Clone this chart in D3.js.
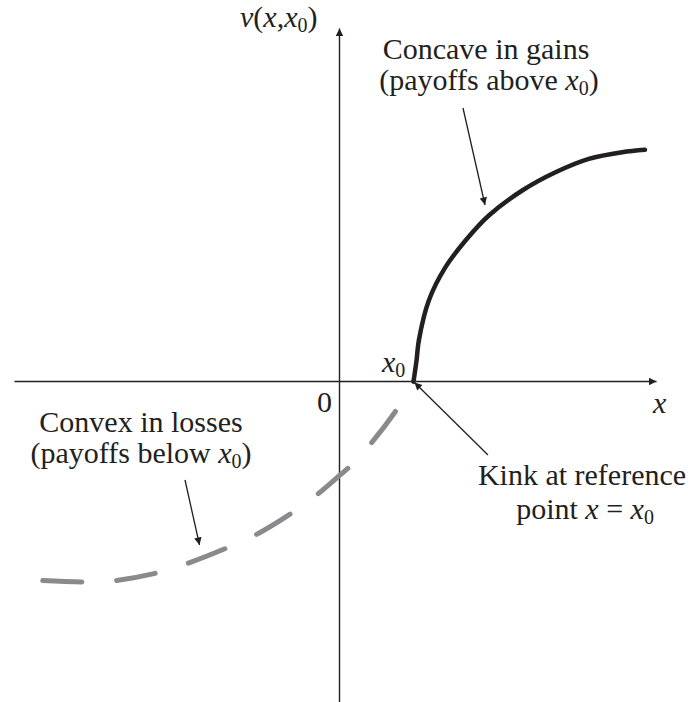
<!DOCTYPE html>
<html>
<head>
<meta charset="utf-8">
<script src="https://cdn.jsdelivr.net/npm/d3@7"></script>
</head>
<body style="margin:0">
<script>
// ---- data ----
// gains branch (concave), x in units where x0 = 1
const gainX = [1.0, 1.041, 1.072, 1.207, 1.432, 1.703, 2.018, 2.469, 2.919, 3.369, 3.820, 4.128];
const gainV = [0, 0.284, 0.554, 1.095, 1.545, 1.905, 2.243, 2.581, 2.828, 3.009, 3.099, 3.131];
// losses branch (convex)
const lossX = [-4.01, -3.43, -3.03, -2.44, -2.06, -1.50, -1.11, -0.62, -0.28, 0, 0.17, 0.44, 0.80, 1.0];
const lossV = [-2.69, -2.71, -2.69, -2.58, -2.46, -2.24, -2.06, -1.76, -1.51, -1.27, -1.12, -0.82, -0.34, 0];
// axis extents
const xExtent = [-4.392, 4.284];
const vExtent = [-4.34, 4.77];
const x0Value = 1;

// ---- layout ----
const W = 692, H = 702;
const FONTS = ["'Liberation Serif'", "'Times New Roman'", "Tinos", "'Liberation Serif', serif"];
const INK = "#231f20";
const svg = d3.select("body").append("svg").attr("width", W).attr("height", H);

const x = d3.scaleLinear().domain([0, 1]).range([339.5, 413.5]);
const y = d3.scaleLinear().domain([0, 1]).range([381.5, 307.5]);

const defs = svg.append("defs");
defs.append("marker")
  .attr("id", "arr").attr("viewBox", "0 0 10 10")
  .attr("refX", 10).attr("refY", 5)
  .attr("markerUnits", "userSpaceOnUse")
  .attr("markerWidth", 11).attr("markerHeight", 7.5)
  .attr("orient", "auto")
  .append("path").attr("d", "M0,0L10,5L0,10z").attr("fill", INK);

// axes
svg.append("line")
  .attr("x1", x(xExtent[0])).attr("x2", x(xExtent[1]))
  .attr("y1", y(0)).attr("y2", y(0))
  .attr("stroke", INK).attr("stroke-width", 1.4)
  .attr("marker-end", "url(#arr)");
svg.append("line")
  .attr("x1", x(0)).attr("x2", x(0))
  .attr("y1", y(vExtent[0])).attr("y2", y(vExtent[1]))
  .attr("stroke", INK).attr("stroke-width", 1.4)
  .attr("marker-end", "url(#arr)");

// curves
const line = d3.line().x(d => x(d[0])).y(d => y(d[1])).curve(d3.curveCatmullRom.alpha(0.5));

svg.append("path")
  .attr("d", line(lossX.map((v, i) => [v, lossV[i]])))
  .attr("fill", "none").attr("stroke", "#8a8a8d").attr("stroke-width", 5)
  .attr("stroke-linecap", "round").attr("stroke-dasharray", "39,35");

svg.append("path")
  .attr("d", line(gainX.map((v, i) => [v, gainV[i]])))
  .attr("fill", "none").attr("stroke", INK).attr("stroke-width", 4.5)
  .attr("stroke-linecap", "round");

// annotation arrows
function arrow(x1, y1, x2, y2) {
  svg.append("line")
    .attr("x1", x1).attr("y1", y1).attr("x2", x2).attr("y2", y2)
    .attr("stroke", INK).attr("stroke-width", 1.3)
    .attr("marker-end", "url(#arr)");
}
arrow(463, 108, 485, 205);
arrow(185, 480, 199.5, 545);
arrow(488, 455, x(x0Value) + 1, y(0) + 1);

// text helper
function label(px, py, anchor, parts) {
  const t = svg.append("text").attr("class", "lbl").attr("x", px).attr("y", py)
    .attr("text-anchor", anchor).attr("fill", INK)
    .style("font-family", FONTS[0])
    .style("font-size", "30px");
  parts.forEach(p => {
    const s = t.append("tspan").text(p.t);
    if (p.i) s.style("font-style", "italic");
    if (p.sub) s.style("font-size", "20px").attr("dy", 5);
    if (p.back) s.attr("dy", -5);
  });
  return t;
}

label(240, 27, "start", [
  {t: "v", i: true}, {t: "("}, {t: "x", i: true}, {t: ","}, {t: "x", i: true},
  {t: "0", sub: true}, {t: ")", back: true}
]);
label(486, 59, "middle", [{t: "Concave in gains"}]);
label(489, 90, "middle", [{t: "(payoffs above "}, {t: "x", i: true}, {t: "0", sub: true}, {t: ")", back: true}]);
label(141, 432, "middle", [{t: "Convex in losses"}]);
label(141, 463, "middle", [{t: "(payoffs below "}, {t: "x", i: true}, {t: "0", sub: true}, {t: ")", back: true}]);
label(582, 485, "middle", [{t: "Kink at reference"}]);
label(585, 519, "middle", [{t: "point "}, {t: "x", i: true}, {t: " = "}, {t: "x", i: true}, {t: "0", sub: true}]);
label(653, 413, "start", [{t: "x", i: true}]);
label(317, 412, "start", [{t: "0"}]);
label(382, 372, "start", [{t: "x", i: true}, {t: "0", sub: true}]);

// re-resolve the serif family once the font system is ready (forces a fresh lookup)
function refont(i) { svg.selectAll("text.lbl").style("font-family", FONTS[i % FONTS.length]); }
if (document.fonts && document.fonts.load) {
  document.fonts.load("30px 'Liberation Serif'").then(() => refont(3)).catch(() => {});
}
requestAnimationFrame(() => refont(3));
setTimeout(() => refont(0), 150);
setTimeout(() => refont(3), 400);
</script>
</body>
</html>
